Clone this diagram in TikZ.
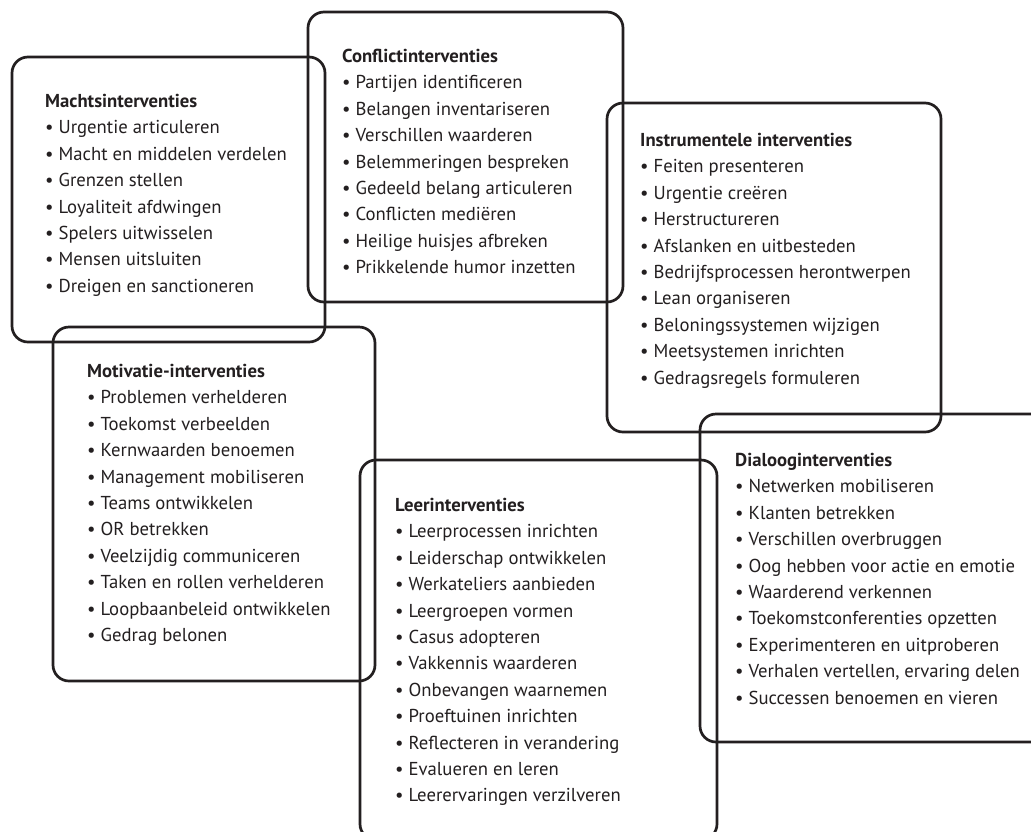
\documentclass[tikz,border=0pt]{standalone}
\usepackage{fontspec}
\newfontfamily\boxfont{PT Sans}
\definecolor{ink}{HTML}{231F20}
\begin{document}
\begin{tikzpicture}[x=1pt,y=-1pt,
  framebox/.style={draw=ink, line width=2.7pt, rounded corners=16pt},
  listtext/.style={anchor=north west, inner sep=0pt, align=left, text=ink,
    font=\boxfont\fontsize{18.7}{26.4}\selectfont}]
\useasboundingbox (0,0) rectangle (1031,831);
\clip (0,0) rectangle (1031,831);
\fill[white] (0,0) rectangle (1031,831);
% frames
\draw[framebox] (12,57) rectangle (325,342);
\draw[framebox] (308,12) rectangle (623,302);
\draw[framebox] (607,103) rectangle (941,432);
\draw[framebox] (53,327) rectangle (375,681);
\draw[framebox] (360,460) rectangle (717,840);
\draw[framebox] (700,414) rectangle (1048,742);
% texts
\node[listtext] (macht) at (45,94) {\textbf{Machtsinterventies}\\
• Urgentie articuleren\\
• Macht en middelen verdelen\\
• Grenzen stellen\\
• Loyaliteit afdwingen\\
• Spelers uitwisselen\\
• Mensen uitsluiten\\
• Dreigen en sanctioneren};
\node[listtext] (conflict) at (342,49) {\textbf{Conflictinterventies}\\
• Partijen identificeren\\
• Belangen inventariseren\\
• Verschillen waarderen\\
• Belemmeringen bespreken\\
• Gedeeld belang articuleren\\
• Conflicten mediëren\\
• Heilige huisjes afbreken\\
• Prikkelende humor inzetten};
\node[listtext] (instr) at (640,133) {\textbf{Instrumentele interventies}\\
• Feiten presenteren\\
• Urgentie creëren\\
• Herstructureren\\
• Afslanken en uitbesteden\\
• Bedrijfsprocessen herontwerpen\\
• Lean organiseren\\
• Beloningssystemen wijzigen\\
• Meetsystemen inrichten\\
• Gedragsregels formuleren};
\node[listtext] (motiv) at (87,364) {\textbf{Motivatie-interventies}\\
• Problemen verhelderen\\
• Toekomst verbeelden\\
• Kernwaarden benoemen\\
• Management mobiliseren\\
• Teams ontwikkelen\\
• OR betrekken\\
• Veelzijdig communiceren\\
• Taken en rollen verhelderen\\
• Loopbaanbeleid ontwikkelen\\
• Gedrag belonen};
\node[listtext] (leer) at (395,498) {\textbf{Leerinterventies}\\
• Leerprocessen inrichten\\
• Leiderschap ontwikkelen\\
• Werkateliers aanbieden\\
• Leergroepen vormen\\
• Casus adopteren\\
• Vakkennis waarderen\\
• Onbevangen waarnemen\\
• Proeftuinen inrichten\\
• Reflecteren in verandering\\
• Evalueren en leren\\
• Leerervaringen verzilveren};
\node[listtext] (dialoog) at (735,453) {\textbf{Dialooginterventies}\\
• Netwerken mobiliseren\\
• Klanten betrekken\\
• Verschillen overbruggen\\
• Oog hebben voor actie en emotie\\
• Waarderend verkennen\\
• Toekomstconferenties opzetten\\
• Experimenteren en uitproberen\\
• Verhalen vertellen, ervaring delen\\
• Successen benoemen en vieren};
\end{tikzpicture}
\end{document}
